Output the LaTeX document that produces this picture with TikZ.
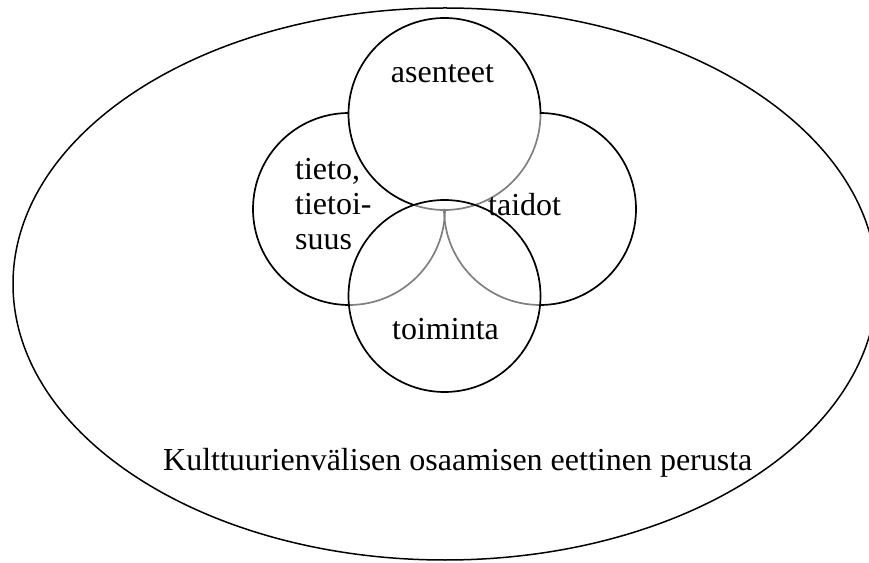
\documentclass[tikz,border=0pt]{standalone}
\usepackage{fontspec}
\setmainfont{Liberation Serif}
\begin{document}
\begin{tikzpicture}[x=1pt,y=1pt,
  ring/.style={line width=1.7pt,black},
  faint/.style={line width=1.7pt,black!50},
  outer/.style={line width=1.5pt,black},
  lbl/.style={inner sep=0pt,anchor=base west,font=\fontsize{32}{35}\selectfont}]
\useasboundingbox (0,0) rectangle (869,562);
\coordinate (E) at (445,278);
\coordinate (T) at (444.5,448);
\coordinate (L) at (349,353);
\coordinate (R) at (540,353);
\coordinate (B) at (444.5,266);
\draw[outer] (E) ellipse[x radius=432,y radius=276];
% top circle
\draw[ring] (T) ++(0:96) arc[start angle=0,end angle=251.5,radius=96];
\draw[faint] (T) ++(251.5:96) arc[start angle=251.5,end angle=360,radius=96];
% left circle
\draw[ring] (L) ++(90:96) arc[start angle=90,end angle=270,radius=96];
\draw[faint] (L) ++(270:96) arc[start angle=270,end angle=360,radius=96];
% right circle
\draw[ring] (R) ++(-90:96) arc[start angle=-90,end angle=90,radius=96];
\draw[faint] (R) ++(180:96) arc[start angle=180,end angle=270,radius=96];
% bottom circle
\draw[ring] (B) circle[radius=96];
% labels
\node[lbl,anchor=base] (asenteet) at (442.5,479) {asenteet};
\node[lbl] (tieto1) at (295,382) {tieto,};
\node[lbl] (tieto2) at (295,347) {tietoi-};
\node[lbl] (tieto3) at (295,312) {suus};
\node[lbl] (taidot) at (488,346) {taidot};
\node[lbl] (toiminta) at (392,222) {toiminta};
\node[lbl] (perusta) at (163,92) {Kulttuurienvälisen osaamisen eettinen perusta};
\end{tikzpicture}
\end{document}
